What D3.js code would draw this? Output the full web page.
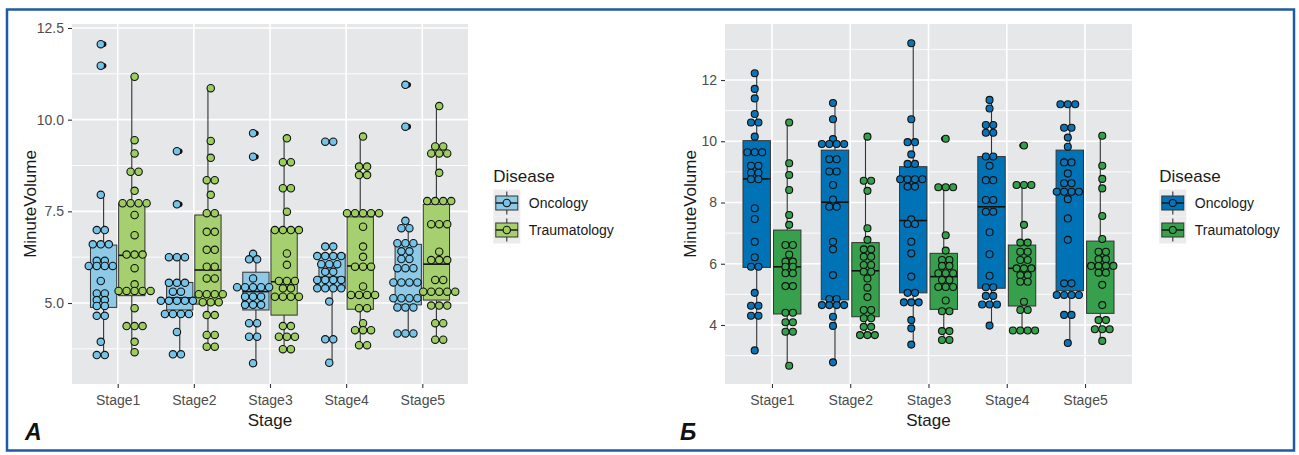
<!DOCTYPE html>
<html>
<head>
<meta charset="utf-8">
<script src="https://cdn.jsdelivr.net/npm/d3@7"></script>
<style>
  body { margin: 0; background: #fff; }
  svg { display: block; }
  text { font-family: "Liberation Sans", Arial, sans-serif; }
</style>
</head>
<body>
<svg id="fig" width="1299" height="455"></svg>
<script>
const stages = ["Stage1", "Stage2", "Stage3", "Stage4", "Stage5"];
const diseases = ["Oncology", "Traumatology"];

// panel A -- dot bins as [value, count], one list per stage
const aOncDots = [
  [[12.06,1],[11.47,1],[7.95,1],[6.99,2],[6.60,3],[6.15,2],[6.01,4],[5.60,1],[5.26,2],[5.08,2],[4.92,2],[4.65,2],[3.94,1],[3.58,2]],
  [[9.14,1],[7.69,1],[6.25,3],[5.55,3],[5.31,2],[5.06,5],[4.70,4],[4.21,1],[3.60,2]],
  [[9.63,1],[8.99,1],[6.34,1],[6.19,2],[5.67,1],[5.43,5],[5.17,3],[4.95,3],[4.45,2],[4.08,2],[3.36,1]],
  [[9.40,2],[6.54,2],[6.28,4],[6.06,3],[5.85,2],[5.63,4],[5.40,4],[5.04,1],[4.01,2],[3.37,1]],
  [[10.95,1],[9.81,1],[7.24,1],[7.04,2],[6.63,3],[6.41,2],[6.20,2],[5.95,3],[5.56,4],[5.13,4],[4.88,3],[4.17,3]]
];
const aTraDots = [
  [[11.17,1],[9.44,1],[9.08,1],[8.58,2],[8.06,1],[7.72,4],[7.40,1],[6.85,1],[6.32,3],[5.95,1],[5.51,1],[5.33,5],[4.86,1],[4.37,3],[3.94,1],[3.66,1]],
  [[10.86,1],[9.42,1],[8.96,1],[8.35,2],[7.95,1],[7.45,2],[6.94,2],[6.45,2],[5.99,2],[5.67,2],[5.24,4],[5.02,3],[4.67,2],[4.13,2],[3.81,2]],
  [[9.49,1],[8.84,2],[8.13,2],[7.49,1],[6.99,4],[6.35,1],[6.04,1],[5.60,3],[5.40,2],[5.17,4],[4.37,2],[4.08,3],[3.74,2]],
  [[9.54,1],[8.72,2],[8.49,2],[7.45,5],[7.08,1],[6.54,1],[6.26,1],[5.99,3],[5.45,1],[5.22,4],[4.86,2],[4.45,1],[4.26,3],[3.85,2]],
  [[10.37,1],[9.27,2],[9.08,3],[8.55,1],[7.78,4],[7.15,3],[6.40,1],[6.17,3],[5.63,2],[5.31,5],[4.93,3],[4.45,2],[4.00,2]]
];
// box stats: [lower whisker, q1, median, q3, upper whisker]
const aOncBox = [[3.58,4.88,5.99,6.58,7.95],[3.60,4.81,5.14,5.56,6.25],[3.36,4.81,5.31,5.84,6.34],[3.37,5.40,5.70,6.33,6.54],[4.17,4.95,5.56,6.60,7.24]];
const aTraBox = [[3.66,5.20,6.30,7.72,11.17],[3.81,4.97,5.90,7.40,10.86],[3.74,4.67,5.58,6.99,9.49],[3.85,4.83,6.01,7.35,9.54],[4.00,5.08,6.06,7.69,10.37]];
const aOncOut = [[12.06,11.47],[9.14,7.69],[9.63,8.99],[9.40,9.40],[10.95,9.81]];
const aTraOut = [[],[],[],[],[]];
const aTicks = [5.0, 7.5, 10.0, 12.5];
const aMinor = [3.75, 6.25, 8.75, 11.25];

// panel Б
const bOncDots = [
  [[12.22,1],[11.71,1],[11.40,1],[10.89,1],[10.61,2],[10.15,1],[9.64,3],[9.20,2],[8.97,2],[8.76,2],[7.81,1],[7.46,1],[6.72,1],[6.21,1],[5.90,2],[5.05,1],[4.63,2],[4.30,2],[3.17,1]],
  [[11.25,1],[10.72,1],[10.07,1],[9.91,4],[9.41,2],[9.01,2],[8.57,1],[8.10,1],[7.86,2],[6.72,1],[6.47,1],[5.63,1],[4.85,2],[4.65,4],[4.27,1],[3.97,1],[2.78,1]],
  [[13.20,1],[10.72,1],[9.97,2],[9.57,1],[9.26,2],[8.76,4],[8.52,2],[7.45,1],[7.30,2],[6.72,1],[6.34,1],[5.58,1],[5.05,2],[4.74,3],[4.16,1],[3.89,1],[3.36,1]],
  [[11.35,1],[11.07,1],[10.53,2],[10.28,2],[9.50,2],[9.20,1],[8.73,2],[8.08,2],[7.70,2],[7.03,1],[6.31,1],[5.61,1],[5.23,2],[4.95,2],[4.67,3],[3.98,1]],
  [[11.21,3],[10.44,2],[10.12,1],[9.82,1],[9.31,2],[8.95,1],[8.63,2],[8.35,4],[8.11,1],[7.48,1],[6.78,1],[5.36,2],[4.98,4],[4.33,2],[3.41,1]]
];
const bTraDots = [
  [[10.61,1],[9.28,1],[8.90,1],[8.41,1],[7.59,1],[7.27,1],[6.61,2],[6.30,1],[6.07,2],[5.90,2],[5.69,2],[5.27,2],[4.40,2],[4.09,2],[3.78,2],[2.67,1]],
  [[10.15,1],[8.71,2],[8.38,1],[7.16,1],[6.78,1],[6.47,2],[6.23,2],[5.96,2],[5.74,2],[5.52,1],[5.22,1],[4.91,1],[4.49,2],[4.22,2],[3.94,2],[3.67,3]],
  [[10.08,1],[8.50,3],[6.93,1],[6.43,1],[6.12,2],[5.93,2],[5.69,3],[5.47,2],[5.24,3],[4.80,1],[4.45,2],[3.80,2],[3.51,2]],
  [[9.86,1],[8.57,3],[7.27,1],[6.69,2],[6.39,2],[6.12,2],[5.85,3],[5.63,2],[5.41,2],[4.76,1],[4.49,2],[3.82,4]],
  [[10.18,1],[9.20,1],[8.77,1],[8.46,1],[7.56,1],[6.81,1],[6.39,2],[6.15,2],[5.93,4],[5.71,2],[5.31,1],[4.65,1],[4.16,2],[3.86,3],[3.48,1]]
];
const bOncBox = [[3.17,5.88,8.77,10.02,12.22],[2.78,4.82,8.01,9.71,11.25],[3.36,5.05,7.41,9.17,13.20],[3.98,5.20,7.86,9.50,11.35],[3.41,5.12,8.35,9.71,11.21]];
const bTraBox = [[2.67,4.36,5.90,7.10,10.61],[3.67,4.27,5.77,6.69,10.15],[3.51,4.51,5.58,6.34,8.50],[3.82,4.62,5.85,6.61,8.57],[3.48,4.38,5.93,6.74,10.18]];
const bOncOut = [[],[],[],[],[]];
const bTraOut = [[],[],[10.08],[9.86],[]];
const bTicks = [4, 6, 8, 10, 12];
const bMinor = [3, 5, 7, 9, 11, 13];

const svg = d3.select("#fig");

// blue frame round the whole figure
svg.append("rect")
  .attr("x", 7).attr("y", 9.5).attr("width", 1287).attr("height", 441)
  .attr("fill", "none").attr("stroke", "#1f5aa6").attr("stroke-width", 2.5);

function drawPanel(p) {
  const g = svg.append("g");
  const x = d3.scalePoint().domain(stages).range([p.left, p.right]).padding(0.6);
  const step = x.step();
  const y = d3.scaleLinear().domain(p.yDomain).range([p.bottom, p.top]);

  g.append("rect")
    .attr("x", p.left).attr("y", p.top)
    .attr("width", p.right - p.left).attr("height", p.bottom - p.top)
    .attr("fill", "#e6e7e9");

  // grid
  g.selectAll(".minor").data(p.minor).enter().append("line")
    .attr("x1", p.left).attr("x2", p.right)
    .attr("y1", d => y(d)).attr("y2", d => y(d))
    .attr("stroke", "#fff").attr("stroke-width", 0.9);
  g.selectAll(".majorY").data(p.ticks).enter().append("line")
    .attr("x1", p.left).attr("x2", p.right)
    .attr("y1", d => y(d)).attr("y2", d => y(d))
    .attr("stroke", "#fff").attr("stroke-width", 1.6);
  g.selectAll(".majorX").data(stages).enter().append("line")
    .attr("x1", d => x(d)).attr("x2", d => x(d))
    .attr("y1", p.top).attr("y2", p.bottom)
    .attr("stroke", "#fff").attr("stroke-width", 1.6);

  // boxes, whiskers, outliers
  diseases.forEach((dz, k) => {
    const sign = k === 0 ? -1 : 1;
    stages.forEach((st, i) => {
      const [lo, q1, med, q3, hi] = p.boxes[k][i];
      const cx = x(st) + sign * p.boxOff * step;
      const w = p.boxW * step;
      g.append("line").attr("x1", cx).attr("x2", cx).attr("y1", y(hi)).attr("y2", y(q3))
        .attr("stroke", "#333").attr("stroke-width", 1.1);
      g.append("line").attr("x1", cx).attr("x2", cx).attr("y1", y(q1)).attr("y2", y(lo))
        .attr("stroke", "#333").attr("stroke-width", 1.1);
      g.append("rect")
        .attr("x", cx - w / 2).attr("y", y(q3))
        .attr("width", w).attr("height", y(q1) - y(q3))
        .attr("fill", p.boxFill[k]).attr("stroke", "#333").attr("stroke-width", 1);
      g.append("line").attr("x1", cx - w / 2).attr("x2", cx + w / 2)
        .attr("y1", y(med)).attr("y2", y(med))
        .attr("stroke", "#111").attr("stroke-width", 1.6);
      p.outliers[k][i].forEach(v => {
        g.append("circle").attr("cx", cx).attr("cy", y(v)).attr("r", 2.8).attr("fill", "#111");
      });
    });
  });

  // dot plots, bins stacked sideways about the dodge centre
  diseases.forEach((dz, k) => {
    const sign = k === 0 ? -1 : 1;
    stages.forEach((st, i) => {
      const cx = x(st) + sign * p.dotOff * step;
      p.dots[k][i].forEach(([v, n]) => {
        for (let j = 0; j < n; j++) {
          g.append("circle")
            .attr("cx", cx + (j - (n - 1) / 2) * p.dotD)
            .attr("cy", y(v))
            .attr("r", p.dotR)
            .attr("fill", p.dotFill[k])
            .attr("stroke", "#111").attr("stroke-width", 1.1);
        }
      });
    });
  });

  // axes
  const ay = g.append("g").attr("transform", `translate(${p.left},0)`)
    .call(d3.axisLeft(y).tickValues(p.ticks).tickSize(4).tickPadding(4).tickFormat(p.fmt));
  const ax = g.append("g").attr("transform", `translate(0,${p.bottom})`)
    .call(d3.axisBottom(x).tickSize(4).tickPadding(7));
  [ax, ay].forEach(a => {
    a.select(".domain").remove();
    a.selectAll(".tick line").attr("stroke", "#333").attr("stroke-width", 1.1);
    a.selectAll(".tick text").attr("fill", "#4d4d4d").style("font-size", "14px")
      .style("font-family", '"Liberation Sans", Arial, sans-serif');
  });

  g.append("text")
    .attr("x", (p.left + p.right) / 2).attr("y", 426)
    .attr("text-anchor", "middle").attr("fill", "#1a1a1a")
    .style("font-size", "17px").text("Stage");
  g.append("text")
    .attr("transform", `translate(${p.yTitleX},${(p.top + p.bottom) / 2}) rotate(-90)`)
    .attr("text-anchor", "middle").attr("fill", "#1a1a1a")
    .style("font-size", "17px").text("MinuteVolume");

  // legend
  const lg = g.append("g").attr("transform", `translate(${p.legendX},0)`);
  lg.append("text").attr("x", 0).attr("y", 182).attr("fill", "#1a1a1a")
    .style("font-size", "17px").text("Disease");
  diseases.forEach((dz, k) => {
    const top = 189.5 + k * 27;
    const cy = top + 13.5;
    lg.append("rect").attr("x", 0).attr("y", top).attr("width", 27).attr("height", 27)
      .attr("fill", "#ebebeb");
    lg.append("line").attr("x1", 13.5).attr("x2", 13.5).attr("y1", top + 2).attr("y2", top + 25)
      .attr("stroke", "#333").attr("stroke-width", 1.1);
    lg.append("rect").attr("x", 2.5).attr("y", cy - 7).attr("width", 22).attr("height", 14)
      .attr("fill", p.boxFill[k]).attr("stroke", "#333").attr("stroke-width", 1);
    lg.append("line").attr("x1", 2.5).attr("x2", 24.5).attr("y1", cy).attr("y2", cy)
      .attr("stroke", "#111").attr("stroke-width", 1.4);
    lg.append("circle").attr("cx", 13.5).attr("cy", cy).attr("r", p.dotR)
      .attr("fill", p.dotFill[k]).attr("stroke", "#111").attr("stroke-width", 1.1);
    lg.append("text").attr("x", 35.5).attr("y", cy).attr("dy", "0.35em")
      .attr("fill", "#1a1a1a").style("font-size", "14px").text(dz);
  });

  g.append("text")
    .attr("x", p.letterX).attr("y", 440)
    .attr("fill", "#111").style("font-size", "23px")
    .style("font-weight", "bold").style("font-style", "italic")
    .text(p.letter);
}

drawPanel({
  left: 72, right: 468, top: 24, bottom: 384,
  yDomain: [2.791, 12.609], ticks: aTicks, minor: aMinor, fmt: d3.format(".1f"),
  dots: [aOncDots, aTraDots], boxes: [aOncBox, aTraBox], outliers: [aOncOut, aTraOut],
  boxFill: ["#8ecae6", "#a6d06f"], dotFill: ["#74c3e8", "#9ccd5e"],
  boxOff: 0.185, boxW: 0.345, dotOff: 0.222, dotR: 3.7, dotD: 8,
  yTitleX: 36, legendX: 493.3, letter: "A", letterX: 25
});

drawPanel({
  left: 725, right: 1132, top: 24, bottom: 384,
  yDomain: [2.073, 13.829], ticks: bTicks, minor: bMinor, fmt: d3.format("d"),
  dots: [bOncDots, bTraDots], boxes: [bOncBox, bTraBox], outliers: [bOncOut, bTraOut],
  boxFill: ["#0073b7", "#37a04c"], dotFill: ["#0a74b9", "#33a04a"],
  boxOff: 0.195, boxW: 0.35, dotOff: 0.22, dotR: 3.5, dotD: 7.4,
  yTitleX: 696, legendX: 1159.3, letter: "Б", letterX: 680
});
</script>
</body>
</html>
